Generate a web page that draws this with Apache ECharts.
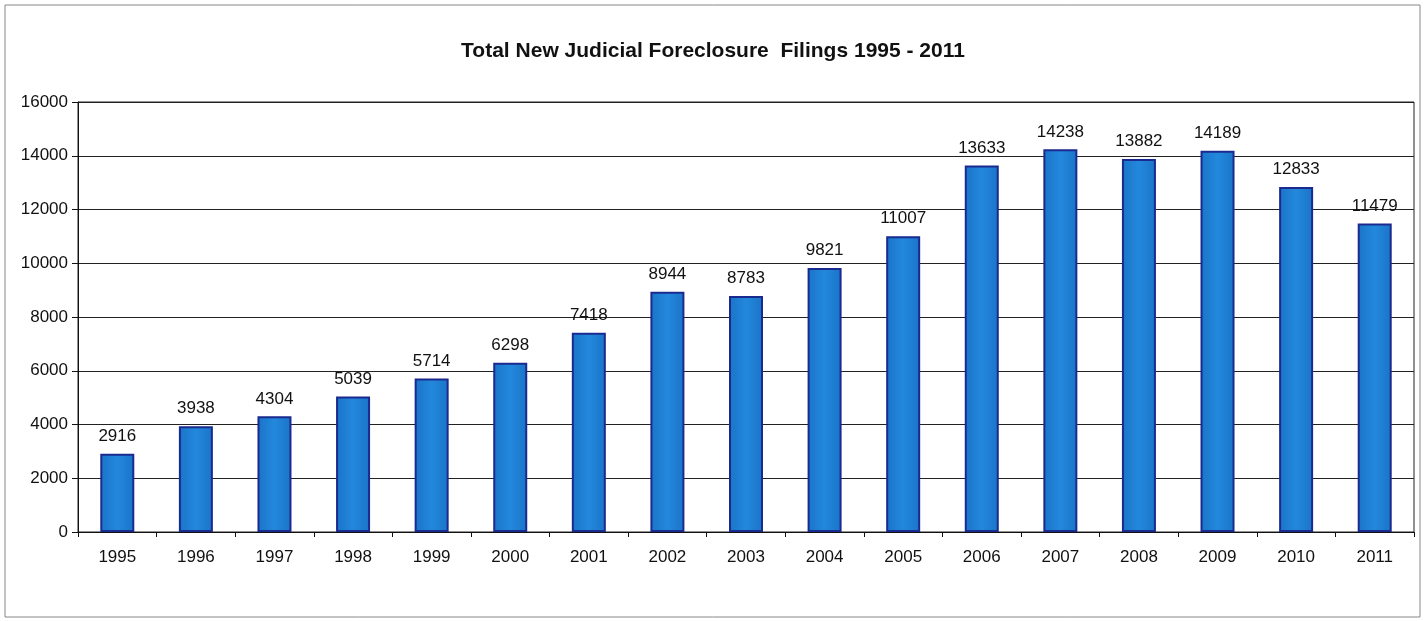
<!DOCTYPE html>
<html>
<head>
<meta charset="utf-8">
<script src="https://cdn.jsdelivr.net/npm/echarts@6/dist/echarts.min.js"></script>
<style>
  html, body { margin: 0; padding: 0; background: #fff; }
  #chart { width: 1426px; height: 621px; }
</style>
</head>
<body>
<div id="chart"></div>
<script>
// filing years and counts
const years = ['1995', '1996', '1997', '1998', '1999', '2000', '2001', '2002', '2003',
  '2004', '2005', '2006', '2007', '2008', '2009', '2010', '2011']
const filings = [2916, 3938, 4304, 5039, 5714, 6298, 7418, 8944, 8783,
  9821, 11007, 13633, 14238, 13882, 14189, 12833, 11479]

const chart = echarts.init(document.getElementById('chart'))

const option = {
  backgroundColor: '#fff',
  animation: false,
  textStyle: { fontFamily: 'Liberation Sans, Arial, sans-serif' },
  graphic: [{
    type: 'rect',
    shape: { x: 5, y: 5, width: 1415, height: 612 },
    style: { fill: 'none', stroke: '#888', lineWidth: 1 }
  }],
  title: {
    text: 'Total New Judicial Foreclosure  Filings 1995 - 2011',
    left: 'center',
    top: 36,
    textStyle: {
      fontFamily: 'Liberation Sans Narrow, Liberation Sans, Arial, sans-serif',
      fontSize: 21,
      fontWeight: 'bold',
      color: '#111'
    }
  },
  grid: {
    left: 78,
    right: 12,
    top: 102,
    bottom: 89,
    show: true,
    borderColor: '#222',
    borderWidth: 1
  },
  xAxis: {
    type: 'category',
    data: years,
    axisLine: { lineStyle: { color: '#111', width: 1 } },
    axisTick: { show: true, length: 5, lineStyle: { color: '#111' } },
    axisLabel: { color: '#111', fontSize: 17, margin: 17 }
  },
  yAxis: {
    type: 'value',
    min: 0,
    max: 16000,
    interval: 2000,
    axisLine: { show: true, lineStyle: { color: '#111', width: 1 } },
    axisTick: { show: true, length: 6, lineStyle: { color: '#111' } },
    axisLabel: { color: '#111', fontSize: 17, margin: 10, formatter: v => String(v) },
    splitLine: { lineStyle: { color: '#222', width: 1.2 } }
  },
  series: [{
    type: 'bar',
    data: filings,
    barWidth: 34,
    itemStyle: {
      color: new echarts.graphic.LinearGradient(0, 0, 1, 0, [
        { offset: 0, color: '#1a74c8' },
        { offset: 0.5, color: '#2388dc' },
        { offset: 1, color: '#1a74c8' }
      ]),
      borderColor: '#1b2a8e',
      borderWidth: 2
    },
    label: {
      show: true,
      position: 'top',
      distance: 9,
      color: '#111',
      fontSize: 17
    }
  }]
}

chart.setOption(option)
</script>
</body>
</html>
